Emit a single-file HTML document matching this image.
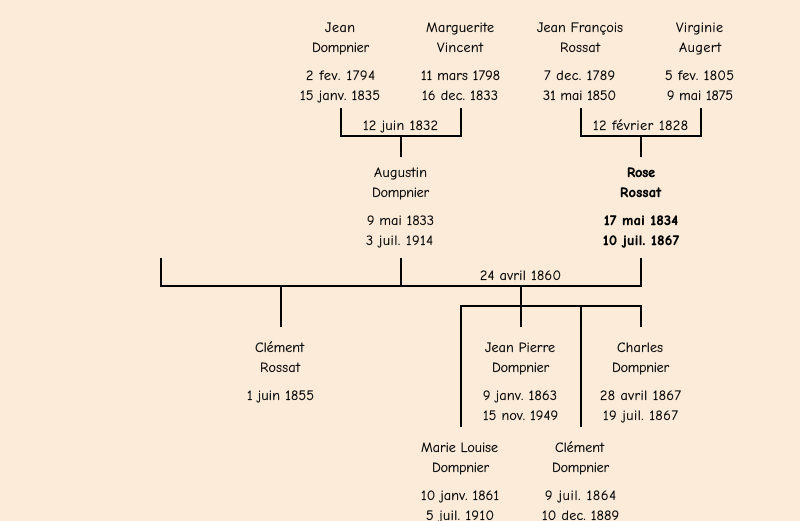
<!DOCTYPE html>
<html><head><meta charset="utf-8"><style>
html,body{margin:0;padding:0;background:#fcebd9;width:800px;height:521px;overflow:hidden}
svg{display:block}
text{font-family:"Comic Sans MS","Comic Neue","Liberation Sans",sans-serif;font-size:14px;fill:#000;stroke:#000;stroke-width:.22px}
.b{font-weight:bold;stroke-width:.45px}
</style></head><body>
<svg width="800" height="521" viewBox="0 0 800 521" xmlns="http://www.w3.org/2000/svg">
<g fill="#000" shape-rendering="crispEdges">
<rect x="340" y="108" width="2" height="29"/><rect x="460" y="108" width="2" height="29"/><rect x="340" y="135" width="122" height="2"/><rect x="400" y="135" width="2" height="22"/>
<rect x="580" y="108" width="2" height="29"/><rect x="700" y="108" width="2" height="29"/><rect x="580" y="135" width="122" height="2"/><rect x="640" y="135" width="2" height="22"/>
<rect x="160" y="258" width="2" height="29"/><rect x="400" y="258" width="2" height="29"/><rect x="640" y="258" width="2" height="29"/><rect x="160" y="285" width="482" height="2"/>
<rect x="280" y="285" width="2" height="42"/><rect x="520" y="285" width="2" height="42"/>
<rect x="460" y="305" width="182" height="2"/><rect x="460" y="305" width="2" height="122"/><rect x="580" y="305" width="2" height="122"/><rect x="640" y="305" width="2" height="22"/>
</g>
<g>
<text x="325" y="32" textLength="30">Jean</text>
<text x="312" y="52" textLength="57">Dompnier</text>
<text x="306" y="80" textLength="69">2 fev. 1794</text>
<text x="300" y="100" textLength="80">15 janv. 1835</text>
<text x="426" y="32" textLength="68">Marguerite</text>
<text x="437" y="52" textLength="46">Vincent</text>
<text x="421" y="80" textLength="79">11 mars 1798</text>
<text x="422" y="100" textLength="76">16 dec. 1833</text>
<text x="363" y="130" textLength="75">12 juin 1832</text>
<text x="537" y="32" textLength="86">Jean François</text>
<text x="560" y="52" textLength="40">Rossat</text>
<text x="544" y="80" textLength="71">7 dec. 1789</text>
<text x="543" y="100" textLength="73">31 mai 1850</text>
<text x="676" y="32" textLength="47">Virginie</text>
<text x="679" y="52" textLength="42">Augert</text>
<text x="665" y="80" textLength="69">5 fev. 1805</text>
<text x="667" y="100" textLength="66">9 mai 1875</text>
<text x="593" y="130" textLength="95">12 février 1828</text>
<text x="374" y="177" textLength="53">Augustin</text>
<text x="372" y="197" textLength="57">Dompnier</text>
<text x="367" y="225" textLength="67">9 mai 1833</text>
<text x="366" y="245" textLength="67">3 juil. 1914</text>
<text class="b" x="627" y="177" textLength="28">Rose</text>
<text class="b" x="620" y="197" textLength="41">Rossat</text>
<text class="b" x="604" y="225" textLength="74">17 mai 1834</text>
<text class="b" x="603" y="245" textLength="76">10 juil. 1867</text>
<text x="480" y="280" textLength="81">24 avril 1860</text>
<text x="255" y="352" textLength="49">Clément</text>
<text x="260" y="372" textLength="40">Rossat</text>
<text x="247" y="400" textLength="67">1 juin 1855</text>
<text x="485" y="352" textLength="70">Jean Pierre</text>
<text x="492" y="372" textLength="57">Dompnier</text>
<text x="483" y="400" textLength="74">9 janv. 1863</text>
<text x="483" y="420" textLength="75">15 nov. 1949</text>
<text x="617" y="352" textLength="46">Charles</text>
<text x="612" y="372" textLength="57">Dompnier</text>
<text x="600" y="400" textLength="81">28 avril 1867</text>
<text x="603" y="420" textLength="75">19 juil. 1867</text>
<text x="421" y="452" textLength="77">Marie Louise</text>
<text x="432" y="472" textLength="57">Dompnier</text>
<text x="421" y="500" textLength="78">10 janv. 1861</text>
<text x="426" y="520" textLength="68">5 juil. 1910</text>
<text x="555" y="452" textLength="49">Clément</text>
<text x="552" y="472" textLength="57">Dompnier</text>
<text x="545" y="500" textLength="71">9 juil. 1864</text>
<text x="542" y="520" textLength="77">10 dec. 1889</text>
</g>
</svg>
</body></html>
